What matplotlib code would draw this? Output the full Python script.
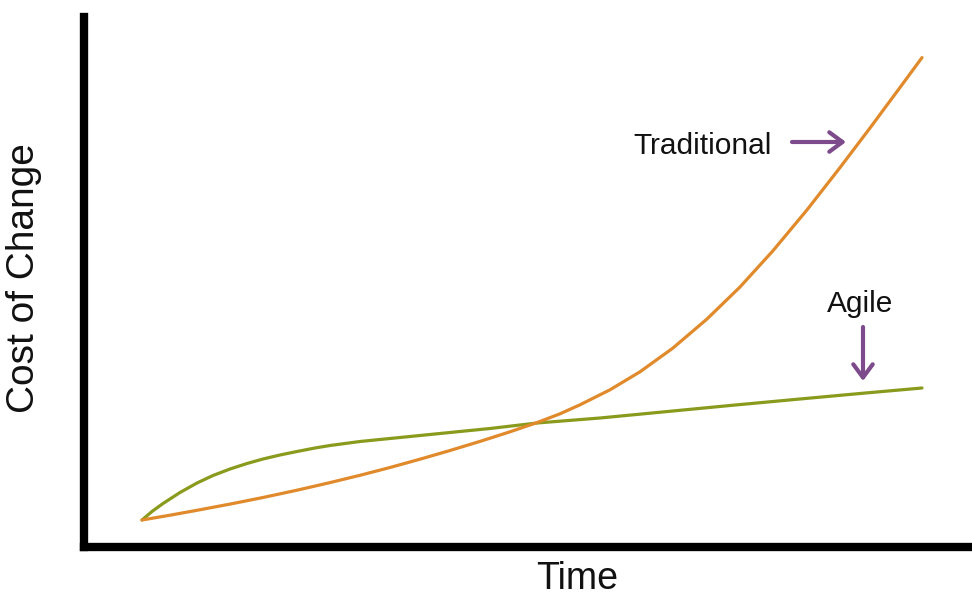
import matplotlib
matplotlib.use("Agg")
import matplotlib.pyplot as plt

# Cost-of-change curves (time vs. cost, arbitrary units)
trad_time = [58.5, 86.5, 113.5, 146.5, 179.5, 213.5, 246.5, 276.5, 306.5,
             336.5, 366.5, 396.5, 426.5, 453.5, 476.5, 496.5, 526.5, 556.5,
             589.5, 623.5, 656.5, 689.5, 723.5, 756.5, 786.5, 816.5, 838.5]
trad_cost = [26.5, 31.3, 36.2, 42.4, 49.0, 56.3, 63.9, 71.2, 79.0,
             87.3, 96.0, 105.1, 114.7, 123.9, 132.7, 141.7, 156.7, 174.7,
             198.5, 227.5, 259.5, 295.8, 336.6, 378.9, 418.5, 459.0, 488.9]

agile_time = [58.5, 68.5, 79.5, 96.5, 113.5, 129.5, 146.5, 163.5, 179.5,
              196.5, 213.5, 231.5, 246.5, 276.5, 306.5, 336.5, 366.5, 406.5,
              453.5, 516.5, 566.5, 646.5, 716.5, 776.5, 838.5]
agile_cost = [26.5, 35.0, 43.0, 54.0, 63.5, 71.0, 77.5, 83.0, 87.5,
              91.5, 95.0, 98.5, 101.0, 105.0, 108.0, 111.0, 114.0, 118.0,
              123.5, 128.5, 133.3, 141.0, 147.5, 153.0, 158.5]

W, H = 972, 597
fig = plt.figure(figsize=(W / 100, H / 100), dpi=100)
x0, y0, x1, y1 = 83.5, 546.5, 972, 17
ax = fig.add_axes([x0 / W, 1 - y0 / H, (x1 - x0) / W, (y0 - y1) / H])
ax.set_xlim(0, x1 - x0)
ax.set_ylim(0, y0 - y1)

orange = "#E08A2C"
green = "#8A9A1C"
purple = "#7D4B8B"

ax.plot(agile_time, agile_cost, color=green, lw=2.3, solid_capstyle="round",
        solid_joinstyle="round")
ax.plot(trad_time, trad_cost, color=orange, lw=2.3, solid_capstyle="round",
        solid_joinstyle="round")

for s in ["top", "right"]:
    ax.spines[s].set_visible(False)
for s in ["left", "bottom"]:
    ax.spines[s].set_linewidth(6)
    ax.spines[s].set_color("black")
    ax.spines[s].set_capstyle("projecting")
ax.set_xticks([])
ax.set_yticks([])

font = "Liberation Sans"
arrow_style = dict(arrowstyle="->,head_length=0.95,head_width=0.7",
                   color=purple, lw=3, mutation_scale=10,
                   shrinkA=0, shrinkB=0)

ax.text(702.5 - x0, y0 - 154, "Traditional", fontsize=21.5, family=font,
        ha="center", va="baseline", color="#111111")
ax.annotate("", xy=(846 - x0, y0 - 142), xytext=(792 - x0, y0 - 142),
            arrowprops=arrow_style)
ax.text(860 - x0, y0 - 312, "Agile", fontsize=21.5, family=font,
        ha="center", va="baseline", color="#111111")
ax.annotate("", xy=(863 - x0, y0 - 381), xytext=(863 - x0, y0 - 327),
            arrowprops=arrow_style)

fig.text(34 / W, 1 - 278.5 / H, "Cost of Change", fontsize=28, family=font,
         rotation=90, rotation_mode="anchor", ha="center", va="baseline",
         color="#111111")
fig.text(577.5 / W, 1 - 589 / H, "Time", fontsize=27, family=font,
         ha="center", va="baseline", color="#111111")

fig.savefig("out.png", dpi=100, facecolor="white")
